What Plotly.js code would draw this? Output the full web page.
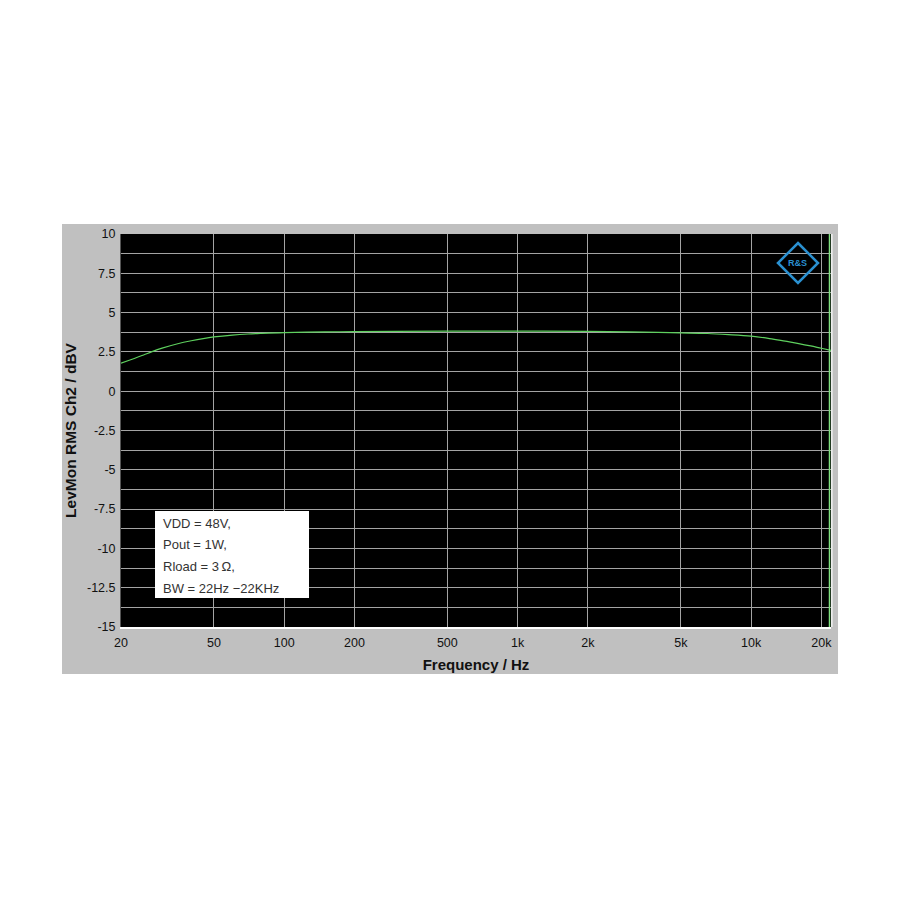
<!DOCTYPE html>
<html>
<head>
<meta charset="utf-8">
<script src="https://cdn.plot.ly/plotly-3.0.1.min.js"></script>
<style>html,body{margin:0;padding:0;background:#fff;}#chart{width:900px;height:900px;}</style>
</head>
<body>
<div id="chart"></div>
<script>
// Frequency response data
const freqHz = [20, 22, 25, 27, 30, 35, 40, 45, 50, 60, 70, 80, 100, 150, 200, 300, 500, 1000, 2000, 3000, 4000, 5000, 6500, 8000, 10000, 12000, 14000, 16000, 18000, 20000, 22000];
const levelDBV = [1.78, 2.0, 2.3, 2.5, 2.74, 3.02, 3.21, 3.35, 3.45, 3.57, 3.64, 3.68, 3.73, 3.77, 3.79, 3.81, 3.82, 3.82, 3.8, 3.77, 3.74, 3.71, 3.67, 3.6, 3.5, 3.35, 3.18, 3.03, 2.88, 2.73, 2.6];

const xTickVals = [20, 50, 100, 200, 500, 1000, 2000, 5000, 10000, 20000];
const xTickText = ['20', '50', '100', '200', '500', '1k', '2k', '5k', '10k', '20k'];
const yTickVals = [10, 7.5, 5, 2.5, 0, -2.5, -5, -7.5, -10, -12.5, -15];
const yTickText = ['10', '7.5', '5', '2.5', '0', '-2.5', '-5', '-7.5', '-10', '-12.5', '-15'];

const noteLines = ['VDD = 48V,', 'Pout = 1W,', 'Rload = 3\u2009\u03A9,', 'BW = 22Hz \u221222KHz'];

const FONT = 'Liberation Sans, Arial, sans-serif';

const trace = {
  x: freqHz, y: levelDBV, type: 'scatter', mode: 'lines',
  line: {color: '#5ed05e', width: 1.2, shape: 'spline', smoothing: 1},
  hoverinfo: 'skip'
};

const noteY = [0.2646, 0.2087, 0.1527, 0.0992];
const annotations = noteLines.map((t, i) => ({
  text: t, xref: 'paper', yref: 'paper', x: 0.0562, y: noteY[i],
  xanchor: 'left', yanchor: 'middle', showarrow: false,
  font: {family: FONT, size: 13, color: '#333333'}
}));
annotations.push({
  text: '<b>R&amp;S</b>', xref: 'paper', yref: 'paper', x: 0.9535, y: 0.9262,
  xanchor: 'center', yanchor: 'middle', showarrow: false,
  font: {family: FONT, size: 9, color: '#2a90d0'}
});

const layout = {
  width: 900, height: 900,
  margin: {l: 121, r: 69, t: 234, b: 273, pad: 0},
  paper_bgcolor: '#ffffff',
  plot_bgcolor: '#000000',
  showlegend: false,
  xaxis: {
    type: 'log',
    range: [Math.log10(20), Math.log10(22000)],
    tickvals: xTickVals, ticktext: xTickText,
    ticks: '', ticklabelstandoff: 3,
    tickfont: {family: FONT, size: 12.5, color: '#111111'},
    showgrid: true, gridcolor: '#a4a4a4', gridwidth: 1,
    zeroline: false,
    showline: true, linecolor: '#ffffff', linewidth: 2,
    title: {text: '<b>Frequency / Hz</b>', font: {family: FONT, size: 15, color: '#111111'}, standoff: 10}
  },
  yaxis: {
    range: [-15, 10],
    tickvals: yTickVals, ticktext: yTickText,
    ticks: '', ticklabelstandoff: 2,
    tickfont: {family: FONT, size: 12.5, color: '#111111'},
    showgrid: true, gridcolor: '#a4a4a4', gridwidth: 1,
    minor: {dtick: 1.25, tick0: 0, showgrid: true, gridcolor: '#a4a4a4', gridwidth: 1, ticks: ''},
    zeroline: false,
    showline: true, linecolor: '#555555', linewidth: 1,
    title: {text: '<b>LevMon RMS Ch2 / dBV</b>', font: {family: FONT, size: 15.5, color: '#111111'}, standoff: 6}
  },
  shapes: [
    {type: 'rect', xref: 'paper', yref: 'paper', x0: -0.0831, x1: 1.0099, y0: -0.1196, y1: 1.0254,
     fillcolor: '#c0c0c0', line: {width: 0}, layer: 'below'},
    {type: 'rect', xref: 'paper', yref: 'paper', x0: 0, x1: 1, y0: 0, y1: 1,
     fillcolor: '#000000', line: {width: 0}, layer: 'below'},
    {type: 'rect', xref: 'paper', yref: 'paper', x0: 0.0479, x1: 0.2648, y0: 0.0738, y1: 0.2952,
     fillcolor: '#ffffff', line: {width: 0}, layer: 'above'},
    {type: 'line', xref: 'paper', yref: 'paper', x0: 0.9979, x1: 0.9979, y0: 0, y1: 1,
     line: {color: '#7fe07f', width: 1.5}, layer: 'above'},
    {type: 'line', xref: 'paper', yref: 'paper', x0: 1.0012, x1: 1.0012, y0: 0, y1: 1,
     line: {color: '#f2f2f2', width: 1.5}, layer: 'above'},
    {type: 'path', xref: 'paper', yref: 'paper',
     path: 'M 0.9535 0.9771 L 0.9817 0.9262 L 0.9535 0.8753 L 0.9253 0.9262 Z',
     line: {color: '#2a90d0', width: 2.5}, fillcolor: 'rgba(0,0,0,0)', layer: 'above'}
  ],
  annotations: annotations
};

Plotly.newPlot('chart', [trace], layout, {staticPlot: true, displayModeBar: false});
</script>
</body>
</html>
